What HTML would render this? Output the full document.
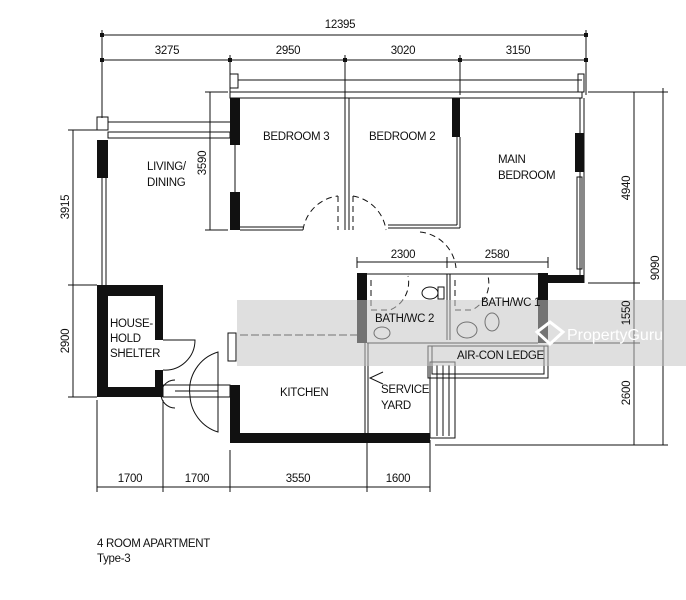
<!DOCTYPE html>
<html><head><meta charset="utf-8"><style>
html,body{margin:0;padding:0;background:#fff;width:686px;height:600px;overflow:hidden}
svg{display:block}
text{font-family:"Liberation Sans Narrow","Liberation Sans",sans-serif;font-size:11.5px;fill:#111;letter-spacing:-0.3px}
</style></head><body>
<svg width="686" height="600" viewBox="0 0 686 600" xmlns="http://www.w3.org/2000/svg">
<g stroke="#111" stroke-width="1" fill="none">
<line x1="102" y1="35" x2="586" y2="35"/>
<line x1="102" y1="60" x2="586" y2="60"/>
<line x1="102" y1="30" x2="102" y2="118"/>
<line x1="230" y1="55" x2="230" y2="92"/>
<line x1="345" y1="55" x2="345" y2="98"/>
<line x1="460" y1="55" x2="460" y2="95"/>
<line x1="586" y1="30" x2="586" y2="95"/>
<line x1="73" y1="130" x2="73" y2="397"/>
<line x1="68" y1="130" x2="102" y2="130"/>
<line x1="68" y1="285" x2="97" y2="285"/>
<line x1="68" y1="397" x2="97" y2="397"/>
<line x1="210" y1="92" x2="210" y2="230"/>
<line x1="205" y1="92" x2="228" y2="92"/>
<line x1="205" y1="230" x2="228" y2="230"/>
<line x1="634" y1="92" x2="634" y2="445"/>
<line x1="663" y1="88" x2="663" y2="445"/>
<line x1="588" y1="92" x2="668" y2="92"/>
<line x1="588" y1="283" x2="640" y2="283"/>
<line x1="550" y1="343" x2="640" y2="343"/>
<line x1="435" y1="445" x2="668" y2="445"/>
<line x1="97" y1="487" x2="430" y2="487"/>
<line x1="97" y1="400" x2="97" y2="492"/>
<line x1="163" y1="400" x2="163" y2="492"/>
<line x1="230" y1="450" x2="230" y2="492"/>
<line x1="367" y1="440" x2="367" y2="492"/>
<line x1="430" y1="440" x2="430" y2="492"/>
<line x1="357" y1="262" x2="548" y2="262"/>
<line x1="357" y1="257" x2="357" y2="268"/>
<line x1="447" y1="257" x2="447" y2="268"/>
<line x1="548" y1="257" x2="548" y2="268"/>
<rect x="97" y="117" width="11" height="13"/>
<line x1="108" y1="122" x2="230" y2="122"/>
<rect x="108" y="132" width="122" height="6"/>
<rect x="230" y="74" width="8" height="14"/>
<line x1="238" y1="80" x2="582" y2="80"/>
<rect x="230" y="92" width="352" height="6"/>
<rect x="578" y="74" width="6" height="18"/>
<line x1="102" y1="178" x2="102" y2="285"/>
<line x1="106" y1="178" x2="106" y2="285"/>
<line x1="235" y1="145" x2="235" y2="192"/>
<line x1="240" y1="230" x2="303" y2="230"/>
<line x1="240" y1="227" x2="303" y2="227"/>
<line x1="345" y1="98" x2="345" y2="230"/>
<line x1="349" y1="98" x2="349" y2="230"/>
<line x1="388" y1="228" x2="460" y2="228"/>
<line x1="388" y1="225" x2="457" y2="225"/>
<line x1="460" y1="137" x2="460" y2="228"/>
<line x1="457" y1="137" x2="457" y2="225"/>
<line x1="584" y1="98" x2="584" y2="283"/>
<line x1="580" y1="98" x2="580" y2="275"/>
<rect x="577" y="177" width="5" height="92"/>
<path d="M303 230 A40 40 0 0 1 338 196" stroke-dasharray="6,4"/>
<line x1="338" y1="196" x2="338" y2="230" stroke-dasharray="6,4"/>
<line x1="353" y1="196" x2="353" y2="230" stroke-dasharray="6,4"/>
<path d="M353 196 A40 40 0 0 1 386 230" stroke-dasharray="6,4"/>
<path d="M420 232 A40 40 0 0 1 456 268" stroke-dasharray="6,4"/>
<line x1="367" y1="274" x2="538" y2="274"/>
<line x1="447" y1="274" x2="447" y2="340"/>
<line x1="450" y1="274" x2="450" y2="340"/>
<line x1="367" y1="343" x2="538" y2="343"/>
<path d="M371 280 V310 H390 A30 30 0 0 0 408 276" stroke-dasharray="6,4"/>
<path d="M455 280 V310 H472 A30 30 0 0 0 488 276" stroke-dasharray="6,4"/>
<ellipse cx="430" cy="293" rx="8" ry="6"/>
<rect x="438" y="287" width="6" height="12"/>
<ellipse cx="492" cy="322" rx="7" ry="9"/>
<ellipse cx="467" cy="330" rx="10" ry="8"/>
<ellipse cx="382" cy="333" rx="8" ry="6"/>
<rect x="428" y="346" width="120" height="32"/>
<rect x="432" y="346" width="112" height="28"/>
<line x1="365" y1="343" x2="365" y2="433"/>
<line x1="368" y1="343" x2="368" y2="433"/>
<path d="M383 372 L370 378 L383 384"/>
<rect x="430" y="362" width="25" height="76"/>
<line x1="437" y1="365" x2="437" y2="436"/>
<line x1="443" y1="365" x2="443" y2="436"/>
<line x1="449" y1="365" x2="449" y2="436"/>
<line x1="240" y1="335" x2="357" y2="335" stroke-dasharray="8,3"/>
<rect x="228" y="333" width="8" height="28"/>
<path d="M163 340 H195 A30 30 0 0 1 163 370"/>
<rect x="163" y="385" width="67" height="12"/>
<line x1="175" y1="391" x2="218" y2="391"/>
<path d="M218 352 A40 40 0 0 0 190 396 A40 40 0 0 0 218 432 Z"/>
<path d="M175 380 A12 12 0 0 0 175 408"/>
</g>
<g fill="#111">
<rect x="100" y="33" width="4" height="4"/><rect x="584" y="33" width="4" height="4"/>
<rect x="100" y="58" width="4" height="4"/><rect x="228" y="58" width="4" height="4"/><rect x="343" y="58" width="4" height="4"/><rect x="458" y="58" width="4" height="4"/><rect x="584" y="58" width="4" height="4"/>
<rect x="97" y="140" width="11" height="38"/>
<rect x="230" y="98" width="10" height="47"/>
<rect x="230" y="192" width="10" height="38"/>
<rect x="452" y="98" width="8" height="39"/>
<rect x="575" y="133" width="9" height="39"/>
<rect x="540" y="275" width="44" height="8"/>
<rect x="357" y="273" width="10" height="70"/>
<rect x="538" y="273" width="10" height="70"/>
<path d="M97 285 H163 V397 H97 Z M108 296 V387 H155 V370 H163 V340 H155 V296 Z" fill-rule="evenodd"/>
<rect x="230" y="385" width="10" height="58"/>
<rect x="230" y="433" width="200" height="10"/>
</g>
<rect x="237" y="300" width="449" height="66" fill="#c4c4c4" opacity="0.55"/>
<text x="567" y="340" style="font-size:16px;fill:#fff;font-family:'Liberation Sans',sans-serif;letter-spacing:0">PropertyGuru</text>
<path d="M537 332 L550 322 L563 332 L550 344 Z" fill="none" stroke="#fff" stroke-width="3"/>
<text x="340" y="28" text-anchor="middle">12395</text>
<text x="167" y="54" text-anchor="middle">3275</text>
<text x="288" y="54" text-anchor="middle">2950</text>
<text x="403" y="54" text-anchor="middle">3020</text>
<text x="518" y="54" text-anchor="middle">3150</text>
<text x="263" y="140">BEDROOM 3</text>
<text x="369" y="140">BEDROOM 2</text>
<text x="498" y="163">MAIN</text>
<text x="498" y="179">BEDROOM</text>
<text x="147" y="170">LIVING/</text>
<text x="147" y="186">DINING</text>
<text x="403" y="258" text-anchor="middle">2300</text>
<text x="497" y="258" text-anchor="middle">2580</text>
<text x="481" y="306">BATH/WC 1</text>
<text x="375" y="322">BATH/WC 2</text>
<text x="457" y="359">AIR-CON LEDGE</text>
<text x="110" y="327">HOUSE-</text>
<text x="110" y="342">HOLD</text>
<text x="110" y="357">SHELTER</text>
<text x="280" y="396">KITCHEN</text>
<text x="381" y="393">SERVICE</text>
<text x="381" y="409">YARD</text>
<text x="130" y="482" text-anchor="middle">1700</text>
<text x="197" y="482" text-anchor="middle">1700</text>
<text x="298" y="482" text-anchor="middle">3550</text>
<text x="398" y="482" text-anchor="middle">1600</text>
<text transform="translate(69 207) rotate(-90)" text-anchor="middle">3915</text>
<text transform="translate(69 341) rotate(-90)" text-anchor="middle">2900</text>
<text transform="translate(206 163) rotate(-90)" text-anchor="middle">3590</text>
<text transform="translate(630 188) rotate(-90)" text-anchor="middle">4940</text>
<text transform="translate(630 313) rotate(-90)" text-anchor="middle">1550</text>
<text transform="translate(630 393) rotate(-90)" text-anchor="middle">2600</text>
<text transform="translate(659 268) rotate(-90)" text-anchor="middle">9090</text>
<text x="97" y="547">4 ROOM APARTMENT</text>
<text x="97" y="562">Type-3</text>
</svg>
</body></html>
